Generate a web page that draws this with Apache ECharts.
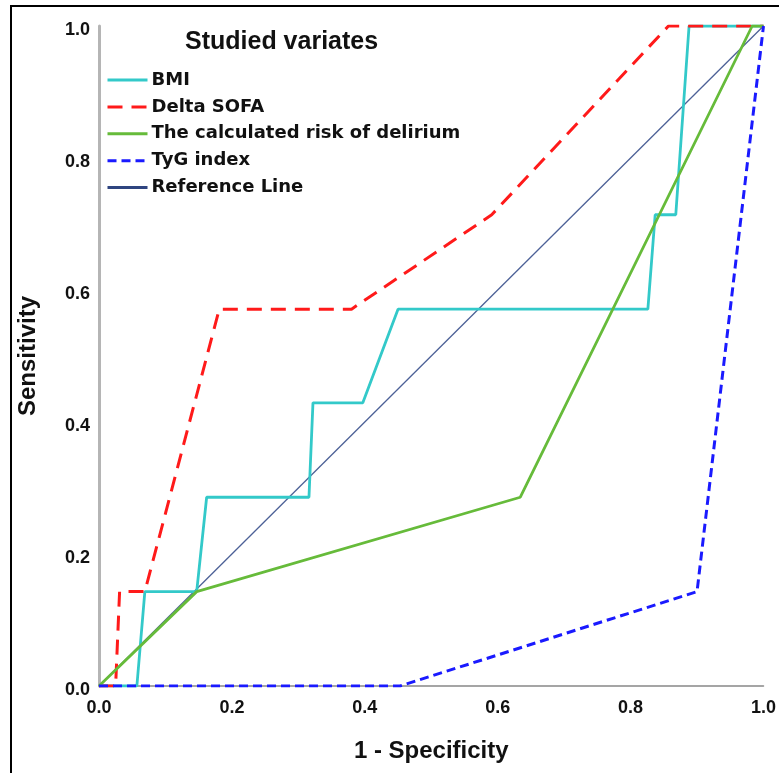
<!DOCTYPE html>
<html>
<head>
<meta charset="utf-8">
<script src="https://cdn.jsdelivr.net/npm/echarts@6/dist/echarts.min.js"></script>
<style>
  html, body { margin: 0; padding: 0; background: #fff; }
  #chart { width: 779px; height: 773px; }
</style>
</head>
<body>
<div id="chart"></div>
<script>
// ROC curves, points as [1 - specificity, sensitivity]
var seriesNames = ['BMI', 'Delta SOFA', 'The calculated risk of delirium', 'TyG index', 'Reference Line'];
var bmiPts = [[0,0],[0.057,0],[0.069,0.143],[0.147,0.143],[0.162,0.286],[0.316,0.286],[0.322,0.429],[0.397,0.429],[0.450,0.571],[0.826,0.571],[0.837,0.714],[0.868,0.714],[0.888,1],[1,1]];
var sofaPts = [[0,0],[0.025,0],[0.031,0.143],[0.069,0.143],[0.181,0.571],[0.380,0.571],[0.591,0.714],[0.857,1],[1,1]];
var riskPts = [[0,0],[0.147,0.143],[0.634,0.286],[0.983,1],[1,1]];
var tygPts = [[0,0],[0.453,0],[0.900,0.143],[1,1]];
var refPts = [[0,0],[1,1]];

var chart = echarts.init(document.getElementById('chart'));

var tickFont = { color: '#111', fontFamily: 'Liberation Sans', fontWeight: 'bold', fontSize: 18 };
var nameFont = { color: '#111', fontFamily: 'Liberation Sans', fontWeight: 'bold', fontSize: 24 };

function lineSeries(name, data, color, width, type, z) {
	return {
		name: name,
		type: 'line',
		data: data,
		symbol: 'none',
		z: z,
		animation: false,
		lineStyle: { color: color, width: width, type: type },
		itemStyle: { color: color }
	};
}

var option = {
	backgroundColor: '#fff',
	animation: false,
	title: {
		text: 'Studied variates',
		left: 185,
		top: 30,
		padding: 0,
		textStyle: { color: '#111', fontFamily: 'Liberation Sans', fontWeight: 'bold', fontSize: 25 }
	},
	legend: {
		orient: 'vertical',
		left: 106,
		top: 71,
		padding: 0,
		itemWidth: 40,
		itemHeight: 16,
		itemGap: 8.9,
		itemStyle: { opacity: 0 },
		lineStyle: { width: 3 },
		textStyle: { color: '#111', fontFamily: 'DejaVu Sans', fontWeight: 'bold', fontSize: 18, padding: [0, 0, 0, -1] },
		data: [
			{ name: seriesNames[0] },
			{ name: seriesNames[1] },
			{ name: seriesNames[2] },
			{ name: seriesNames[3] },
			{ name: seriesNames[4], lineStyle: { width: 3, color: '#2f4580' } }
		]
	},
	grid: { left: 99, right: 13, top: 26, bottom: 87 },
	xAxis: {
		type: 'value',
		min: 0, max: 1, interval: 0.2,
		name: '1 - Specificity',
		nameLocation: 'middle',
		nameGap: 53,
		nameTextStyle: nameFont,
		axisLine: { show: true, lineStyle: { color: '#888', width: 1.5 } },
		axisTick: { show: false },
		splitLine: { show: false },
		axisLabel: Object.assign({ margin: 13, formatter: function (v) { return v.toFixed(1); } }, tickFont)
	},
	yAxis: {
		type: 'value',
		min: 0, max: 1, interval: 0.2,
		name: 'Sensitivity',
		nameLocation: 'middle',
		nameGap: 59,
		nameTextStyle: nameFont,
		axisLine: { show: true, lineStyle: { color: '#b5b5b5', width: 3 } },
		axisTick: { show: false },
		splitLine: { show: false },
		axisLabel: Object.assign({ margin: 9, verticalAlign: 'top', lineHeight: 8, formatter: function (v) { return v.toFixed(1); } }, tickFont)
	},
	graphic: [{
		type: 'rect',
		silent: true,
		shape: { x: 11, y: 6, width: 820, height: 820 },
		style: { fill: 'none', stroke: '#000', lineWidth: 2 }
	}],
	series: [
		lineSeries(seriesNames[4], refPts, '#4d6197', 1.3, 'solid', 2),
		lineSeries(seriesNames[0], bmiPts, '#33c9c9', 2.8, 'solid', 3),
		lineSeries(seriesNames[1], sofaPts, '#ff1a1a', 3, [15, 9], 4),
		lineSeries(seriesNames[2], riskPts, '#66bb3a', 2.8, 'solid', 5),
		lineSeries(seriesNames[3], tygPts, '#1a1aff', 3, [9, 5], 6)
	]
};

chart.setOption(option);
</script>
</body>
</html>
